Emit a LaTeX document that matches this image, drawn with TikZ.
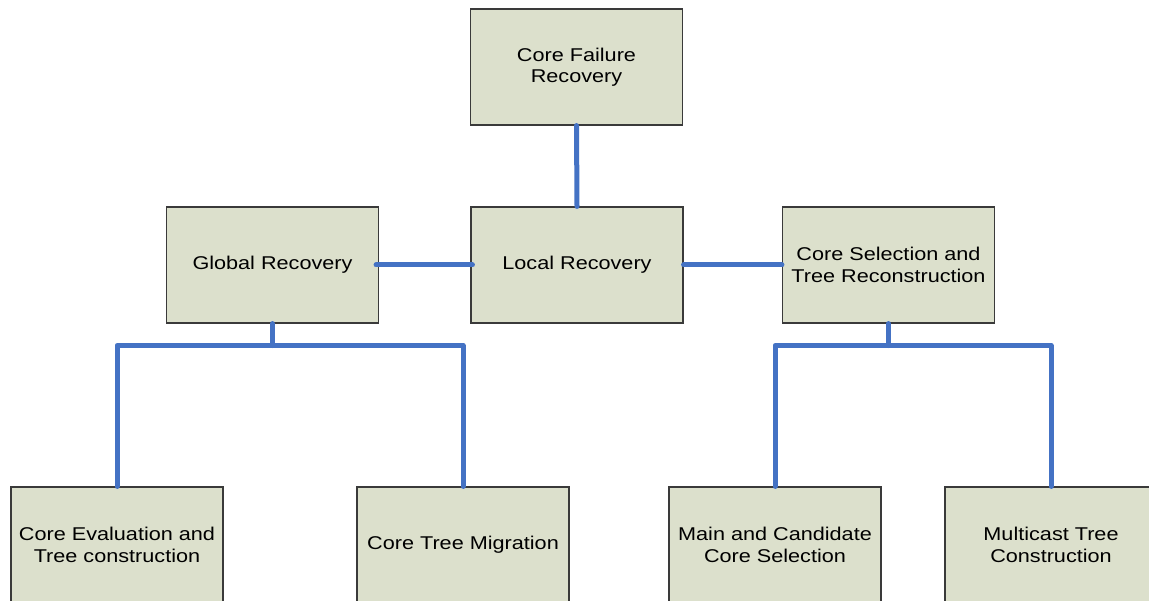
\documentclass[tikz,border=0pt]{standalone}
\usepackage{fontspec}
\setmainfont[FakeStretch=1.17]{Liberation Sans}
\definecolor{boxfill}{HTML}{DCE0CC}
\definecolor{boxline}{HTML}{3A3A3A}
\definecolor{conn}{HTML}{4472C4}
\begin{document}
\begin{tikzpicture}[x=1pt,y=-1pt,
  box/.style={draw=boxline, line width=1.1pt, fill=boxfill, minimum width=212pt, minimum height=116pt,
    align=center, inner sep=2pt, font=\fontsize{18.5}{21.5}\selectfont},
  link/.style={draw=conn, line width=5pt, line cap=round, line join=round}]
\useasboundingbox (0,0) rectangle (1149,601);
\clip (0,0) rectangle (1149,601);
\fill[white] (0,0) rectangle (1149,601);
\node[box] (top) at (576.5,67) {Core Failure\\Recovery};
\node[box] (glob) at (272.5,265) {Global Recovery};
\node[box] (loc) at (577,265) {Local Recovery};
\node[box] (sel) at (888.5,265) {Core Selection and\\Tree Reconstruction};
\node[box] (ce) at (117,545) {Core Evaluation and\\Tree construction};
\node[box] (tm) at (463,545) {Core Tree Migration};
\node[box] (mc) at (775,545) {Main and Candidate\\Core Selection};
\node[box] (mt) at (1051,545) {Multicast Tree\\Construction};
\draw[link] (top.south) -- (loc.north);
\draw[link] ([xshift=-3pt]glob.east) -- ([xshift=2pt]loc.west);
\draw[link] (loc.east) -- (sel.west);
\draw[link] (glob.south) -- ++(0,22) coordinate (gj);
\draw[link] (ce.north) |- (gj) -| (tm.north);
\draw[link] (sel.south) -- ++(0,22) coordinate (sj);
\draw[link] (mc.north) |- (sj) -| (mt.north);
\end{tikzpicture}
\end{document}
